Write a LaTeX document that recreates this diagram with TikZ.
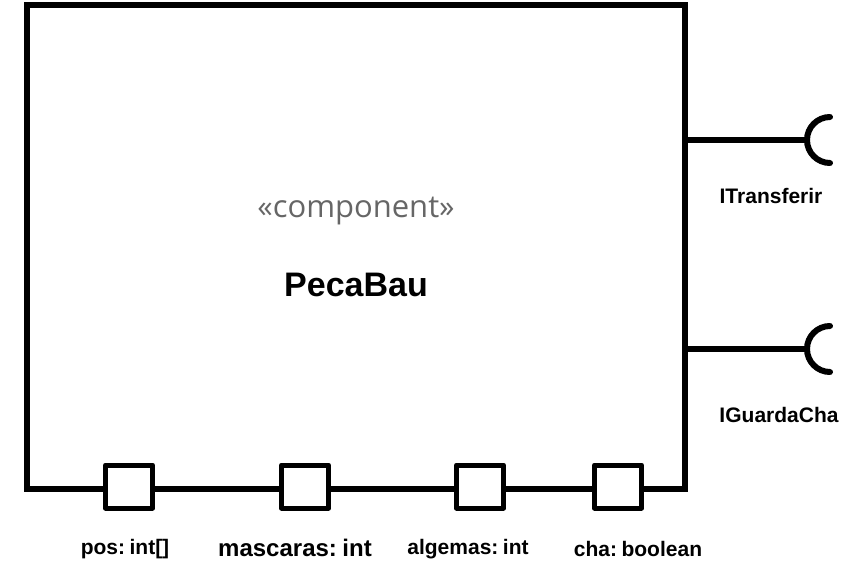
\documentclass[tikz,border=0pt]{standalone}
\usepackage{fontspec}
\setmainfont{Liberation Sans}
\newfontfamily\stfont{Open Sans}
\definecolor{stereo}{HTML}{666666}
\begin{document}
\begin{tikzpicture}[x=1pt,y=-1pt,
  compbox/.style={draw, line width=6pt, minimum width=658pt, minimum height=484pt, inner sep=0pt, outer sep=0pt},
  portbox/.style={draw, fill=white, line width=5pt, line join=round, minimum width=47pt, minimum height=43pt, inner sep=0pt, outer sep=0pt},
  conn/.style={line width=6pt},
  sock/.style={line width=6pt, line cap=round},
  lbl/.style={font=\fontsize{21}{25}\selectfont\bfseries, inner sep=0pt},
  lblbig/.style={font=\fontsize{24}{28}\selectfont\bfseries, inner sep=0pt}
]
\useasboundingbox (0,0) rectangle (857,583);
\node[compbox] (comp) at (356,247) {};
\node[font=\stfont\fontsize{31}{36}\selectfont, text=stereo, inner sep=0pt] (st) at (356,211) {«component»};
\node[font=\fontsize{34}{40}\selectfont\bfseries, inner sep=0pt] (name) at (356,285) {PecaBau};
% ports
\node[portbox] (p1) at (129,486.5) {};
\node[portbox] (p2) at (305,486.5) {};
\node[portbox] (p3) at (480,486.5) {};
\node[portbox] (p4) at (618,486.5) {};
\node[lbl] (l1) at (125,549) {pos:\hspace{4.5pt}int[]};
\node[lblbig] (l2) at (295,548) {mascaras:\hspace{5.5pt}int};
\node[lbl] (l3) at (468,549) {algemas:\hspace{4.5pt}int};
\node[lbl] (l4) at (638,549) {cha:\hspace{4.5pt}boolean};
% required interfaces
\coordinate (s1) at (807,140);
\coordinate (s2) at (807,349);
\draw[conn] (comp.east |- s1) -- (s1);
\draw[conn] (comp.east |- s2) -- (s2);
\draw[sock] (s1) ++(23,23) arc[start angle=90, end angle=270, radius=23];
\draw[sock] (s2) ++(23,23) arc[start angle=90, end angle=270, radius=23];
\node[lbl] (i1) at (771,196) {ITransferir};
\node[lbl] (i2) at (779,415) {IGuardaCha};
\end{tikzpicture}
\end{document}
